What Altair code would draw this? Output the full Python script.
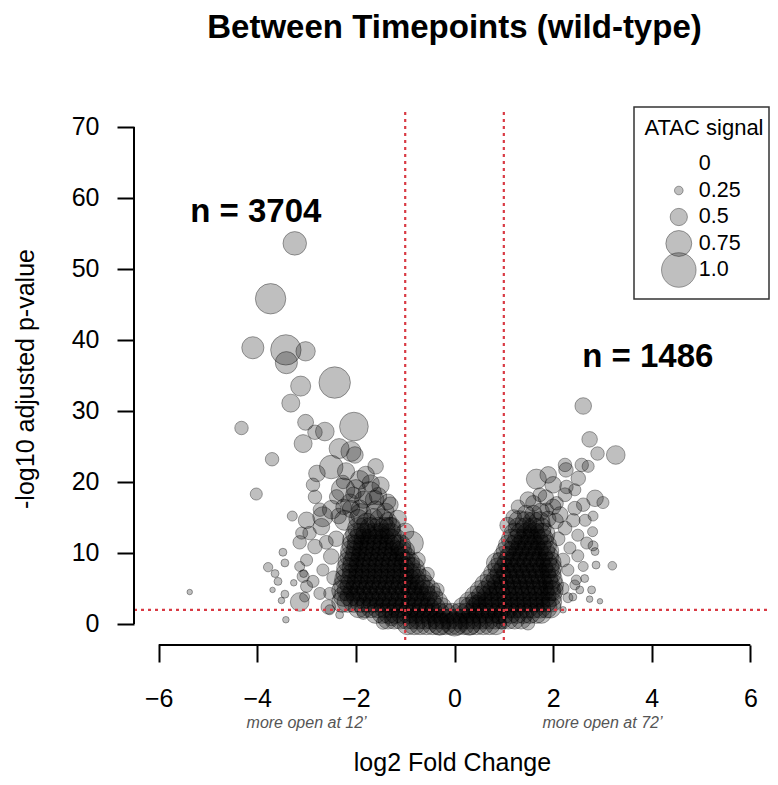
import altair as alt
import pandas as pd

FONT = "Liberation Sans"
RED = "#d93a44"

# ---- scattered (individually readable) peaks: log2FC, -log10 padj, ATAC signal
sp_x = [-3.24, -3.73, -4.09, -3.42, -3.02, -3.41, -3.12, -2.43, -3.32, -4.32,
        -3.02, -2.83, -2.63, -2.04, -3.07, -2.34, -2.10, -2.02, -3.70, -2.50,
        -2.79, -1.92, -2.26, -4.02, -2.87, -2.83, -2.26, -1.72, -1.62, -2.12,
        -2.39, -2.49, -1.92, -2.73, -3.29, -3.00, -2.67, -2.70, -2.23, -1.48,
        -1.78, -1.28, -3.10, -2.94, -3.14, -2.83, -0.87, -3.48, -3.00, -3.44,
        -3.78, -3.64, -3.58, -3.26, -3.69, -3.44, -3.51, -5.37, -3.42, -3.14,
        -3.07, -3.00, -3.04, -3.14, -2.67, -2.87, -2.73, -2.53, -2.56, -2.53,
        -2.33, -1.85, -1.45, -1.28, -3.06, -1.90, -1.60, -1.40, -2.10, -1.50,
        -2.00, -1.80, -2.20, -1.60, -2.35, -1.30, -1.15, -2.40, -2.50, -2.45,
        -2.60, -1.00, -0.75, -0.55, -0.35, -1.85, -1.55, -1.35, -2.05, -1.70,
        -1.95, -1.65, -1.35, -2.25,
        2.61, 2.74, 2.90, 3.27, 2.24, 2.58, 2.71, 1.66, 1.90, 2.26,
        2.51, 2.00, 2.27, 2.44, 2.85, 3.01, 2.61, 2.07, 1.87, 2.81,
        1.32, 2.41, 2.80, 2.68, 2.81, 2.85, 3.20, 2.87, 2.61, 2.64,
        2.78, 2.74, 2.95, 0.85, 1.49, 0.95, 2.47, 2.54, 2.40, 2.20,
        2.24, 2.44, 2.14, 2.65, 2.24, 2.50, 2.34, 2.50, 2.30, 2.44,
        2.30, 1.73, 1.49, 1.29, 1.08, 1.60, 1.90, 2.10, 2.20, 2.20,
        0.45, 0.90, 0.00, -0.30, 0.30, 1.45, 1.75, 2.00, 1.60, 1.85,
        2.05, 1.20]
sp_y = [53.6, 45.8, 38.9, 38.6, 38.4, 36.8, 33.5, 34.0, 31.1, 27.6,
        28.4, 27.0, 27.1, 27.8, 25.4, 24.7, 24.3, 23.8, 23.2, 22.1,
        21.2, 20.3, 20.0, 18.3, 19.6, 17.9, 18.9, 18.4, 17.5, 17.0,
        17.9, 16.1, 16.3, 16.1, 15.2, 14.6, 15.1, 13.7, 14.6, 14.6,
        14.2, 13.7, 12.8, 12.8, 11.5, 10.9, 11.4, 10.1, 9.0, 8.6,
        8.0, 7.1, 6.0, 5.8, 4.8, 4.2, 3.3, 4.5, 0.6, 8.1,
        6.7, 5.3, 3.8, 3.1, 7.6, 6.0, 4.3, 4.3, 2.4, 2.0,
        1.3, 1.5, 0.2, 0.6, 7.1, 15.5, 16.0, 15.8, 16.2, 19.5,
        19.0, 21.0, 21.5, 22.2, 15.2, 16.8, 14.8, 12.0, 9.5, 6.5,
        11.5, 13.0, 9.0, 7.0, 4.8, 17.5, 18.0, 17.2, 18.2, 19.8,
        14.8, 14.9, 14.5, 16.5,
        30.7, 26.0, 24.0, 23.8, 22.4, 22.4, 22.2, 20.4, 21.0, 21.7,
        20.5, 19.6, 19.3, 18.9, 17.7, 17.1, 16.8, 17.0, 16.1, 15.2,
        14.4, 14.6, 13.0, 11.4, 11.0, 10.2, 8.2, 8.3, 8.1, 6.4,
        4.8, 3.5, 3.2, 8.6, 0.1, 0.0, 6.2, 4.8, 3.8, 2.0,
        18.2, 16.3, 15.4, 14.6, 13.5, 12.5, 10.7, 9.6, 7.6, 5.5,
        3.7, 18.2, 17.5, 16.5, 13.9, 15.5, 14.8, 12.0, 9.0, 5.0,
        3.0, 1.0, 0.0, 0.0, 0.0, 15.5, 15.8, 16.5, 17.0, 17.8,
        14.5, 15.0]
sp_v = [0.68, 0.88, 0.64, 0.88, 0.56, 0.64, 0.58, 0.91, 0.52, 0.39,
        0.46, 0.42, 0.54, 0.83, 0.52, 0.58, 0.58, 0.48, 0.39, 0.68,
        0.48, 0.54, 0.39, 0.35, 0.39, 0.39, 0.68, 0.68, 0.54, 0.54,
        0.42, 0.54, 0.48, 0.39, 0.29, 0.48, 0.58, 0.48, 0.58, 0.67,
        0.58, 0.54, 0.35, 0.39, 0.39, 0.42, 0.68, 0.23, 0.35, 0.23,
        0.27, 0.23, 0.23, 0.19, 0.16, 0.23, 0.19, 0.16, 0.19, 0.29,
        0.35, 0.35, 0.29, 0.54, 0.35, 0.35, 0.35, 0.35, 0.42, 0.29,
        0.23, 0.35, 0.39, 0.35, 0.23, 0.60, 0.55, 0.50, 0.50, 0.50,
        0.55, 0.50, 0.50, 0.45, 0.45, 0.45, 0.50, 0.45, 0.45, 0.40,
        0.40, 0.50, 0.45, 0.40, 0.40, 0.50, 0.50, 0.45, 0.45, 0.50,
        0.55, 0.55, 0.50, 0.45,
        0.48, 0.45, 0.39, 0.54, 0.39, 0.39, 0.35, 0.58, 0.48, 0.42,
        0.42, 0.48, 0.39, 0.35, 0.48, 0.35, 0.39, 0.39, 0.39, 0.29,
        0.64, 0.39, 0.29, 0.35, 0.29, 0.23, 0.25, 0.23, 0.29, 0.23,
        0.23, 0.19, 0.16, 0.58, 0.39, 0.29, 0.29, 0.23, 0.23, 0.19,
        0.40, 0.40, 0.46, 0.35, 0.40, 0.35, 0.35, 0.35, 0.35, 0.29,
        0.29, 0.40, 0.46, 0.40, 0.46, 0.50, 0.45, 0.40, 0.40, 0.35,
        0.45, 0.40, 0.70, 0.65, 0.65, 0.50, 0.50, 0.45, 0.45, 0.45,
        0.45, 0.45]

# ---- dense core, read row by row (row -log10 padj, peaks' log2FC, ATAC signal)
core_neg_y = [0.0, 0.7, 1.5, 2.3, 3.1, 3.9, 4.7, 5.5, 6.3,
              7.1, 7.9, 8.7, 9.5, 10.3, 11.1, 11.9, 12.7, 13.5]
core_neg_x = [
    [-0.95, -0.82, -0.70, -0.57, -0.44, -0.31, -0.18, -0.06],
    [-1.35, -1.22, -1.10, -0.97, -0.85, -0.72, -0.60, -0.47, -0.35, -0.22, -0.10],
    [-1.60, -1.47, -1.34, -1.21, -1.08, -0.95, -0.82, -0.69, -0.56, -0.43, -0.30, -0.17, -0.05],
    [-1.95, -1.82, -1.69, -1.56, -1.43, -1.30, -1.17, -1.04, -0.91, -0.78, -0.65, -0.52, -0.39, -0.26],
    [-2.28, -2.17, -2.04, -1.91, -1.78, -1.65, -1.52, -1.39, -1.26, -1.13, -1.00, -0.87, -0.74, -0.61, -0.48, -0.35],
    [-2.25, -2.12, -1.99, -1.86, -1.73, -1.60, -1.47, -1.34, -1.21, -1.08, -0.95, -0.82, -0.69, -0.56, -0.44],
    [-2.28, -2.17, -2.04, -1.91, -1.78, -1.65, -1.52, -1.39, -1.26, -1.13, -1.00, -0.87, -0.74, -0.61, -0.50],
    [-2.25, -2.12, -1.99, -1.86, -1.73, -1.60, -1.47, -1.34, -1.21, -1.08, -0.95, -0.82, -0.70, -0.60],
    [-2.22, -2.09, -1.96, -1.83, -1.70, -1.57, -1.44, -1.31, -1.18, -1.05, -0.92, -0.80, -0.68],
    [-2.20, -2.07, -1.94, -1.81, -1.68, -1.55, -1.42, -1.29, -1.16, -1.03, -0.90, -0.78],
    [-2.18, -2.07, -1.94, -1.81, -1.68, -1.55, -1.42, -1.29, -1.16, -1.03, -0.90, -0.82],
    [-2.15, -2.05, -1.92, -1.79, -1.66, -1.53, -1.40, -1.27, -1.14, -1.01, -0.92],
    [-2.12, -2.02, -1.89, -1.76, -1.63, -1.50, -1.37, -1.24, -1.11, -1.00],
    [-2.10, -1.99, -1.86, -1.73, -1.60, -1.47, -1.34, -1.21, -1.08, -1.02],
    [-2.07, -1.97, -1.84, -1.71, -1.58, -1.45, -1.32, -1.19, -1.10],
    [-2.05, -1.95, -1.82, -1.69, -1.56, -1.43, -1.30, -1.20],
    [-2.00, -1.90, -1.79, -1.66, -1.53, -1.40, -1.29],
    [-1.95, -1.83, -1.70, -1.55, -1.42, -1.32],
]
core_neg_v = [0.62, 0.58, 0.58, 0.58, 0.60, 0.58, 0.60, 0.58, 0.60,
              0.58, 0.60, 0.60, 0.58, 0.60, 0.60, 0.62, 0.60, 0.62]

core_pos_y = [0.0, 0.7, 1.5, 2.3, 3.1, 3.9, 4.7, 5.5, 6.3, 7.1,
              7.9, 8.7, 9.5, 10.3, 11.1, 11.9, 12.7, 13.5, 14.3]
core_pos_x = [
    [0.06, 0.19, 0.32, 0.45, 0.58, 0.71, 0.84],
    [0.05, 0.18, 0.31, 0.44, 0.57, 0.70, 0.83, 0.96, 1.09, 1.22, 1.35],
    [0.10, 0.23, 0.36, 0.49, 0.62, 0.75, 0.88, 1.01, 1.14, 1.27, 1.40, 1.53, 1.66, 1.76],
    [0.18, 0.31, 0.44, 0.57, 0.70, 0.83, 0.96, 1.09, 1.22, 1.35, 1.48, 1.61, 1.74, 1.87, 1.95],
    [0.30, 0.43, 0.56, 0.69, 0.82, 0.95, 1.08, 1.21, 1.34, 1.47, 1.60, 1.73, 1.86, 1.97],
    [0.42, 0.55, 0.68, 0.81, 0.94, 1.07, 1.20, 1.33, 1.46, 1.59, 1.72, 1.85, 1.96],
    [0.52, 0.65, 0.78, 0.91, 1.04, 1.17, 1.30, 1.43, 1.56, 1.69, 1.82, 1.95, 2.00],
    [0.62, 0.75, 0.88, 1.01, 1.14, 1.27, 1.40, 1.53, 1.66, 1.79, 1.92, 2.00],
    [0.72, 0.85, 0.98, 1.11, 1.24, 1.37, 1.50, 1.63, 1.76, 1.89, 1.98],
    [0.80, 0.93, 1.06, 1.19, 1.32, 1.45, 1.58, 1.71, 1.84, 1.95],
    [0.88, 1.01, 1.14, 1.27, 1.40, 1.53, 1.66, 1.79, 1.92, 1.97],
    [0.95, 1.08, 1.21, 1.34, 1.47, 1.60, 1.73, 1.86, 1.95],
    [1.00, 1.13, 1.26, 1.39, 1.52, 1.65, 1.78, 1.90],
    [1.05, 1.18, 1.31, 1.44, 1.57, 1.70, 1.83, 1.91],
    [1.10, 1.23, 1.36, 1.49, 1.62, 1.75, 1.86],
    [1.16, 1.29, 1.42, 1.55, 1.68, 1.80],
    [1.22, 1.35, 1.48, 1.61, 1.74, 1.82],
    [1.30, 1.45, 1.60, 1.75],
    [1.45, 1.60, 1.72],
]
core_pos_v = [0.62, 0.58, 0.58, 0.60, 0.58, 0.60, 0.58, 0.60, 0.58, 0.60,
              0.58, 0.60, 0.60, 0.58, 0.60, 0.60, 0.62, 0.60, 0.62]

# legend
legend_values = [0.0, 0.25, 0.5, 0.75, 1.0]
legend_labels = ["0", "0.25", "0.5", "0.75", "1.0"]

x_ticks = [-6, -4, -2, 0, 2, 4, 6]
y_ticks = [0, 10, 20, 30, 40, 50, 60, 70]
fc_cut = [-1, 1]
p_cut = [2]

rows = []
for y, xs, v in zip(core_neg_y, core_neg_x, core_neg_v):
    for x in xs:
        rows.append({"lfc": x, "padj": y, "atac": v})
for y, xs, v in zip(core_pos_y, core_pos_x, core_pos_v):
    for x in xs:
        rows.append({"lfc": x, "padj": y, "atac": v})
for x, y, v in zip(sp_x, sp_y, sp_v):
    rows.append({"lfc": x, "padj": y, "atac": v})
df = pd.DataFrame(rows)

W, H = 636, 533
size_scale = alt.Scale(type="pow", exponent=2, domain=[0, 1], range=[0, 1197])
xscale = alt.Scale(domain=[-6.5, 6.398], nice=False, zero=False)
yscale = alt.Scale(domain=[-2.96, 72.1], nice=False, zero=False)

pt_style = dict(fill="black", fillOpacity=0.25, stroke="black", strokeOpacity=0.35, strokeWidth=1)

points = alt.Chart(df).mark_circle(**pt_style).encode(
    x=alt.X("lfc:Q", scale=xscale,
            axis=alt.Axis(values=x_ticks, domain=False, grid=False, tickSize=17, tickWidth=2,
                          tickColor="black", labelFontSize=25, labelFont=FONT, labelColor="black",
                          labelPadding=24, title="log2 Fold Change", titleFontSize=25,
                          titleFont=FONT, titleFontWeight="normal", titleColor="black",
                          titlePadding=39)),
    y=alt.Y("padj:Q", scale=yscale,
            axis=alt.Axis(values=y_ticks, domain=False, grid=False, tickSize=17, tickWidth=2,
                          tickColor="black", labelFontSize=25, labelFont=FONT, labelColor="black",
                          labelPadding=18, title="-log10 adjusted p-value", titleFontSize=25,
                          titleFont=FONT, titleFontWeight="normal", titleColor="black",
                          titlePadding=33)),
    size=alt.Size("atac:Q", scale=size_scale, legend=None),
)

vlines = alt.Chart(pd.DataFrame({"lfc": fc_cut})).mark_rule(
    color=RED, strokeDash=[3, 4], strokeWidth=2.2).encode(
    x="lfc:Q", y=alt.value(0), y2=alt.value(H))
hline = alt.Chart(pd.DataFrame({"padj": p_cut})).mark_rule(
    color=RED, strokeDash=[3, 4], strokeWidth=2.2).encode(
    y="padj:Q", x=alt.value(0), x2=alt.value(W))

base1 = alt.Chart(pd.DataFrame({"k": [0]}))
xaxis_line = base1.mark_rule(color="black", strokeWidth=2).encode(
    x=alt.datum(x_ticks[0]), x2=alt.datum(x_ticks[-1]), y=alt.value(H))
yaxis_line = base1.mark_rule(color="black", strokeWidth=2).encode(
    y=alt.datum(y_ticks[0]), y2=alt.datum(y_ticks[-1]), x=alt.value(0))

n_left = base1.mark_text(font=FONT, fontSize=33, fontWeight="bold", color="black",
                         align="center", baseline="alphabetic").encode(
    x=alt.datum(-4.03), y=alt.datum(56.6), text=alt.value("n = 3704"))
n_right = base1.mark_text(font=FONT, fontSize=33, fontWeight="bold", color="black",
                          align="center", baseline="alphabetic").encode(
    x=alt.datum(3.92), y=alt.datum(36.2), text=alt.value("n = 1486"))
sub_left = base1.mark_text(font=FONT, fontSize=16, fontStyle="italic", color="#555555",
                           align="center", baseline="middle").encode(
    x=alt.datum(-3), y=alt.value(611), text=alt.value("more open at 12\u2019"))
sub_right = base1.mark_text(font=FONT, fontSize=16, fontStyle="italic", color="#555555",
                            align="center", baseline="middle").encode(
    x=alt.datum(3), y=alt.value(611), text=alt.value("more open at 72\u2019"))
title = base1.mark_text(font=FONT, fontSize=33, fontWeight="bold", color="black",
                        align="center", baseline="alphabetic").encode(
    x=alt.value(320.5), y=alt.value(-74), text=alt.value("Between Timepoints (wild-type)"))

main = alt.layer(points, vlines, hline, xaxis_line, yaxis_line,
                 n_left, n_right, sub_left, sub_right, title)

# ---- legend (R-style box legend)
leg_df = pd.DataFrame({"atac": legend_values, "label": legend_labels})
leg_y = alt.Y("atac:Q", scale=alt.Scale(domain=[0, 1], range=[52, 158]), axis=None)
leg_box = base1.mark_rect(fill="transparent", stroke="#333333", strokeWidth=1.5).encode(
    x=alt.value(500), x2=alt.value(635), y=alt.value(-5), y2=alt.value(187))
leg_title = base1.mark_text(font=FONT, fontSize=22, color="black", align="center",
                            baseline="middle").encode(
    x=alt.value(570), y=alt.value(16), text=alt.value("ATAC signal"))
leg_pts = alt.Chart(leg_df).mark_circle(**pt_style).encode(
    x=alt.value(544.8), y=leg_y,
    size=alt.Size("atac:Q", scale=size_scale, legend=None))
leg_txt = alt.Chart(leg_df).mark_text(font=FONT, fontSize=21.5, color="black", align="left",
                                      baseline="middle").encode(
    x=alt.value(564.8), y=leg_y, text="label:N")
legend = alt.layer(leg_box, leg_title, leg_pts, leg_txt)

chart = alt.layer(main, legend).resolve_scale(y="independent").properties(
    width=W, height=H,
    padding={"left": 126, "top": 104, "right": 0, "bottom": 131},
    autosize=alt.AutoSizeParams(type="none"),
).configure_view(strokeWidth=0)

chart.save("out.html", embed_options={"renderer": "svg", "actions": False})
